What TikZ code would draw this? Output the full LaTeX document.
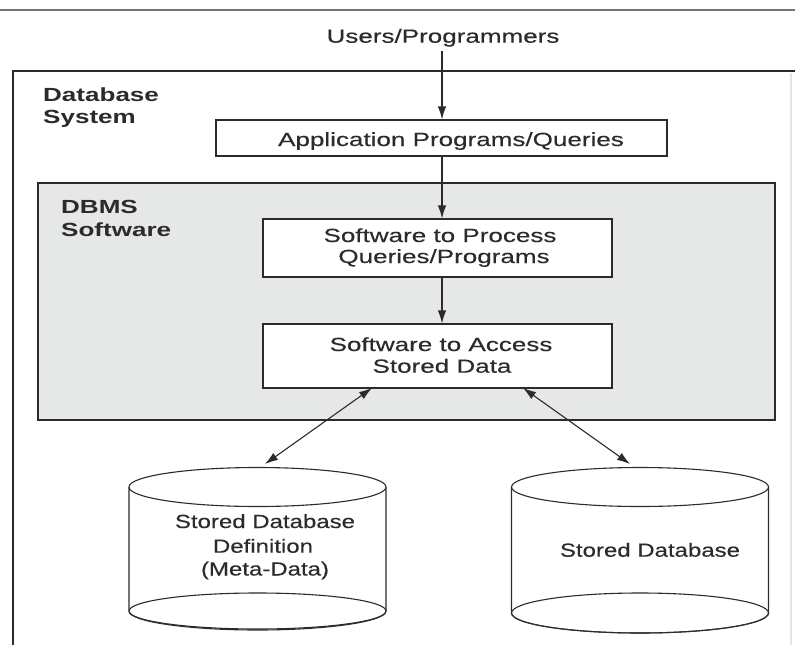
\documentclass[tikz,border=0pt]{standalone}
\usepackage{fontspec}
\setmainfont[FakeStretch=1.37, UprightFeatures={FakeBold=0.3}]{Liberation Sans}
\newfontfamily\cylfont[FakeStretch=1.263, FakeBold=0.3]{Liberation Sans}
\usetikzlibrary{arrows.meta}
\definecolor{dbmsgray}{HTML}{E6E7E7}
\definecolor{ink}{HTML}{2B2B2B}
\tikzset{
  lbl/.style={font=\fontsize{19}{21}\selectfont, inner sep=0pt, anchor=base, text=ink},
  cyllbl/.style={font=\cylfont\fontsize{19}{21}\selectfont, inner sep=0pt, anchor=base, text=ink},
  ttl/.style={font=\bfseries\fontsize{19}{21}\selectfont, inner sep=0pt, anchor=base west, text=ink},
  box/.style={draw=ink, line width=1.1pt, fill=white, inner sep=0pt, minimum width=#1},
  conn/.style={draw=ink, line width=1.2pt, -{Latex[length=13pt,width=8.5pt]}},
  dconn/.style={draw=ink, line width=1.1pt, {Latex[length=13pt,width=8.5pt]}-{Latex[length=13pt,width=8.5pt]}},
  cyl/.style={draw=ink, line width=1.1pt, fill=white}
}
\begin{document}
\begin{tikzpicture}[x=1pt,y=-1pt]
\useasboundingbox (0,0) rectangle (795,645);
\fill[white] (0,0) rectangle (795,645);
% top rule
\draw[black!55, line width=1.6pt] (0,10) -- (795,10);
% outer Database System frame
\draw[ink, line width=1.1pt] (800,71) -- (13,71) -- (13,660);
\draw[black!10, line width=2pt] (791,73) -- (791,645);
% DBMS box
\node[draw=ink, line width=1.1pt, fill=dbmsgray, minimum width=737pt, minimum height=237pt, inner sep=0pt] (dbms) at (406.5,301.5) {};
% boxes
\node[box=451pt, minimum height=36pt] (app) at (441.5,138) {};
\node[box=349pt, minimum height=58pt] (proc) at (437.5,248) {};
\node[box=349pt, minimum height=64pt] (acc) at (437.5,356) {};
% cylinders
\node[inner sep=0pt, minimum width=257pt, minimum height=164pt] (cylL) at (257.5,549) {};
\node[inner sep=0pt, minimum width=257pt, minimum height=164pt] (cylR) at (640,549) {};
\draw[cyl] (129,487) -- (129,611) arc[start angle=180, end angle=360, x radius=128.5pt, y radius=19pt] -- (386,487);
\draw[ink, line width=1.1pt] (257.5,611) ellipse[x radius=128.5pt, y radius=18pt];
\draw[cyl] (257.5,487) ellipse[x radius=128.5pt, y radius=19.5pt];
\draw[cyl] (511.5,487) -- (511.5,613) arc[start angle=180, end angle=360, x radius=128.5pt, y radius=20pt] -- (768.5,487);
\draw[ink, line width=1.1pt] (640,613) ellipse[x radius=128.5pt, y radius=20pt];
\draw[cyl] (640,487) ellipse[x radius=128.5pt, y radius=19.5pt];
% texts
\node[lbl] (users) at (443,42.7) {Users/Programmers};
\node[ttl] (dbs1) at (43,101) {Database};
\node[ttl] (dbs2) at (43,123) {System};
\node[ttl] (dbms1) at (61,213) {DBMS};
\node[ttl] (dbms2) at (61,236) {Software};
\node[lbl] (appt) at (451,146) {Application Programs/Queries};
\node[lbl] (proc1) at (440,242) {Software to Process};
\node[lbl] (proc2) at (444,263) {Queries/Programs};
\node[lbl] (acc1) at (441,351) {Software to Access};
\node[lbl] (acc2) at (442,372.7) {Stored Data};
\node[cyllbl] (l1) at (265,528) {Stored Database};
\node[cyllbl] (l2) at (263,552.7) {Definition};
\node[cyllbl] (l3) at (265,575.5) {(Meta-Data)};
\node[cyllbl] (r1) at (650,556.7) {Stored Database};
% connectors
\coordinate (uarr) at (442,51);
\coordinate (aL) at (372,388);
\coordinate (aR) at (523,388);
\coordinate (cL) at (265,464);
\coordinate (cR) at (630,464);
\draw[conn] (uarr) -- (app.north -| uarr);
\draw[conn] (app.south -| uarr) -- (proc.north -| uarr);
\draw[conn] (proc.south -| uarr) -- (acc.north -| uarr);
\draw[dconn] (aL) -- (cL);
\draw[dconn] (aR) -- (cR);
\end{tikzpicture}
\end{document}
